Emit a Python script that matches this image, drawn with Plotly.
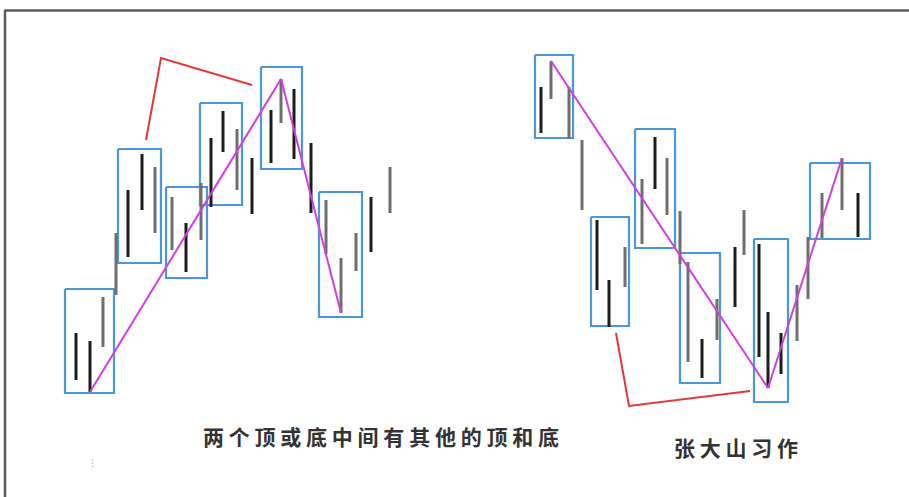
import plotly.graph_objects as go

# ---------------- data ----------------
# bar "time" positions and high / low prices of each price bar
bar_t = [76, 90, 103, 116, 128, 142, 155, 172, 186, 201, 211, 223, 237, 252,
         271, 281, 294, 311, 326, 341, 356, 371, 390,
         541, 551, 569, 582, 597, 609, 625, 642, 655, 667, 680, 688, 702, 717,
         735, 744, 759, 768, 781, 797, 808, 822, 842, 858]
bar_high = [167, 159, 203, 267, 310, 346, 333, 303, 277, 317, 362, 389, 371, 342,
            390, 421, 411, 357, 300, 242, 267, 303, 333,
            413, 439, 413, 360, 280, 220, 253, 321, 363, 342, 289, 238, 161, 201,
            253, 290, 256, 188, 167, 215, 263, 307, 342, 307]
bar_low = [120, 108, 153, 205, 243, 290, 267, 250, 228, 260, 293, 348, 310, 286,
           337, 377, 341, 287, 246, 187, 229, 248, 287,
           367, 401, 361, 290, 210, 173, 213, 256, 311, 285, 236, 138, 122, 160,
           193, 245, 143, 112, 126, 159, 201, 262, 290, 263]
bar_tone = ["d", "d", "l", "l", "d", "d", "l", "l", "d", "l", "d", "d", "l", "d",
            "d", "l", "d", "d", "l", "l", "l", "d", "l",
            "d", "l", "l", "l", "d", "d", "l", "l", "d", "l", "l", "l", "d", "l",
            "d", "l", "d", "d", "d", "l", "l", "l", "l", "d"]

# blue boxes drawn around groups of bars (time from / to, price top / bottom)
box_t0 = [65, 118, 166, 200, 261, 319, 535, 591, 635, 680, 754, 810]
box_t1 = [114, 161, 207, 242, 302, 362, 573, 629, 675, 720, 788, 870]
box_top = [211, 351, 313, 397, 433, 308, 445, 283, 371, 247, 261, 337]
box_bot = [107, 237, 222, 295, 331, 183, 362, 174, 252, 117, 98, 261]

# zig-zag (magenta) lines: bar index and which end of the bar
zig_left_idx = [1, 15, 19]
zig_left_end = ["low", "high", "low"]
zig_right_idx = [24, 40, 45]
zig_right_end = ["high", "low", "high"]

# red connector brackets
red_left_t = [146, 161, 252]
red_left_p = [360, 442, 415]
red_right_t = [616, 629, 750]
red_right_p = [167, 94, 109]

caption_left = "两 个 顶 或 底 中 间 有 其 他 的 顶 和 底"
caption_right = "张 大 山 习 作"

# ---------------- figure ----------------
fig = go.Figure()

# blue boxes
bx, by = [], []
for a, b, t, u in zip(box_t0, box_t1, box_top, box_bot):
    bx += [a, b, b, a, a, None]
    by += [t, t, u, u, t, None]
fig.add_trace(go.Scatter(x=bx, y=by, mode="lines",
                         line=dict(color="#4a98da", width=2.2),
                         hoverinfo="skip", showlegend=False))

# price bars
for tone, col in (("l", "#6e6e6e"), ("d", "#1c1c1c")):
    xs, ys = [], []
    for t, h, l, k in zip(bar_t, bar_high, bar_low, bar_tone):
        if k == tone:
            xs += [t, t, None]
            ys += [l, h, None]
    fig.add_trace(go.Scatter(x=xs, y=ys, mode="lines",
                             line=dict(color=col, width=3),
                             hoverinfo="skip", showlegend=False))


def zig(idx, ends):
    xs = [bar_t[i] for i in idx]
    ys = [bar_high[i] if e == "high" else bar_low[i] for i, e in zip(idx, ends)]
    return xs, ys


for idx, ends in ((zig_left_idx, zig_left_end), (zig_right_idx, zig_right_end)):
    zx, zy = zig(idx, ends)
    fig.add_trace(go.Scatter(x=zx, y=zy, mode="lines",
                             line=dict(color="#d13fe0", width=2),
                             hoverinfo="skip", showlegend=False))

for rx, ry in ((red_left_t, red_left_p), (red_right_t, red_right_p)):
    fig.add_trace(go.Scatter(x=rx, y=ry, mode="lines",
                             line=dict(color="#e2383a", width=2),
                             hoverinfo="skip", showlegend=False))

font = dict(family="Noto Sans CJK SC", size=21, color="#333333", weight=600)
fig.add_annotation(x=381, y=64, text=caption_left, showarrow=False,
                   font=font, xanchor="center", yanchor="middle")
fig.add_annotation(x=736, y=53, text=caption_right, showarrow=False,
                   font=font, xanchor="center", yanchor="middle")
fig.add_annotation(x=92, y=38, text="⁝", showarrow=False,
                   font=dict(size=11, color="#b5b5b5"))

# frame (top and left edges)
fig.add_shape(type="line", xref="paper", yref="paper", x0=0.005, x1=1,
              y0=1 - 10.5 / 497, y1=1 - 10.5 / 497,
              line=dict(color="#5c5c5c", width=2.5))
fig.add_shape(type="line", xref="paper", yref="paper", x0=5 / 909, x1=5 / 909,
              y0=0, y1=1 - 10 / 497, line=dict(color="#5c5c5c", width=2.5))

fig.update_layout(
    width=909, height=497,
    margin=dict(l=0, r=0, t=0, b=0),
    paper_bgcolor="white", plot_bgcolor="white",
    xaxis=dict(range=[0, 909], visible=False, fixedrange=True),
    yaxis=dict(range=[3, 500], visible=False, fixedrange=True),
    showlegend=False,
)

fig.write_html("out.html",
               config={"displayModeBar": False},
               post_script="document.body.style.margin='0';"
                           "document.body.style.overflow='hidden';")
